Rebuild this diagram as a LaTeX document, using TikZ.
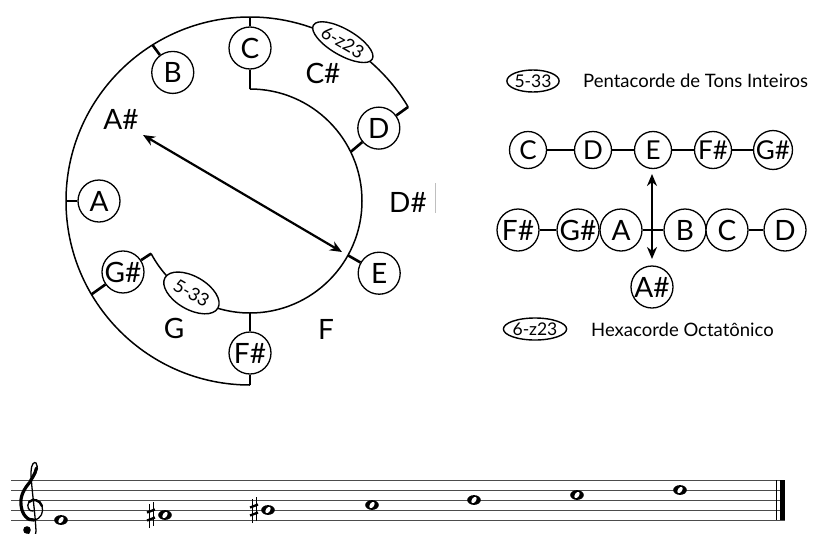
\documentclass[tikz,border=0pt]{standalone}
\usepackage{fontspec}
\setmainfont{Lato}
\usetikzlibrary{arrows.meta,shapes.geometric,calc}

\tikzset{
  pc/.style={circle,draw,line width=1.3pt,fill=white,minimum size=42pt,inner sep=0pt,
             font=\fontsize{28}{28}\selectfont},
  pcs/.style={pc,minimum size=37pt,font=\fontsize{26}{26}\selectfont},
  lab/.style={inner sep=0pt,font=\fontsize{28}{28}\selectfont},
  rim/.style={line width=1.5pt},
  tick/.style={line width=2.6pt},
  setname/.style={ellipse,draw,line width=1.4pt,fill=white,inner sep=0pt,
                  font=\fontsize{18}{18}\selectfont},
  link/.style={line width=2.6pt},
  dbl/.style={line width=2.2pt,{Stealth[length=12pt,width=10pt]}-{Stealth[length=12pt,width=10pt]}},
  legend/.style={anchor=west,inner sep=0pt,font=\fontsize{18.5}{18.5}\selectfont},
  stafflin/.style={line width=1pt,black!70},
}

% whole note head centred at (#1,#2)
\newcommand\wholehead[2]{%
  \begin{scope}[shift={(#1,#2)}]
    \fill (0,0) ellipse (6.8 and 4.9);
    \fill[white,rotate=-35] (0,0) ellipse (2.1 and 3.6);
  \end{scope}}
% sharp sign centred at (#1,#2)
\newcommand\sharpsign[2]{%
  \begin{scope}[shift={(#1,#2)}]
    \draw[line width=0.8pt] (-1.9,-13) -- (-1.9,11);
    \draw[line width=0.8pt] (1.9,-11) -- (1.9,13);
    \draw[line width=2.3pt] (-4,-5.5) -- (4,-2.5);
    \draw[line width=2.3pt] (-4,2.5) -- (4,5.5);
  \end{scope}}

\begin{document}
\begin{tikzpicture}[x=1pt,y=1pt]
\useasboundingbox (0,0) rectangle (813,-533);

% ---------- pitch-class clock ----------
\coordinate (O) at (250,-201);
\draw[rim] ([shift={(270:184)}]O) arc[start angle=270,end angle=30.75,radius=184];
\draw[rim] ([shift={(90:112)}]O) arc[start angle=90,end angle=-152,radius=112];

\coordinate (oC) at ([shift={(90:184)}]O);
\coordinate (iC) at ([shift={(90:112)}]O);
\coordinate (oB) at ([shift={(122:184)}]O);
\coordinate (oA) at ([shift={(180:184)}]O);
\coordinate (oGs) at ([shift={(-149.5:184)}]O);
\coordinate (iGs) at ([shift={(-152:112)}]O);
\coordinate (oFs) at ([shift={(-90:184)}]O);
\coordinate (iFs) at ([shift={(-90:112)}]O);
\coordinate (iE) at ([shift={(-29:112)}]O);
\coordinate (oD) at ([shift={(30.75:184)}]O);
\coordinate (iD) at ([shift={(26:112)}]O);

\node[setname,rotate=-30,minimum width=68pt,minimum height=26pt] (z23)
  at ([shift={(59.7:184)}]O) {6-z23};
\node[setname,rotate=-30,minimum width=61pt,minimum height=33pt] (p533)
  at ([shift={(-122.5:109)}]O) {5-33};

\node[pc] (C) at ([shift={(90:153)}]O) {C};
\node[pc] (B) at ([shift={(121:150)}]O) {B};
\node[pc] (A) at ([shift={(180:151)}]O) {A};
\node[pc] (Gs) at ([shift={(-150.8:145.5)}]O) {G\#};
\node[pc] (Fs) at ([shift={(-90:152)}]O) {F\#};
\node[pc] (E) at ([shift={(-29.2:148)}]O) {E};
\node[pc] (D) at ([shift={(29.5:148)}]O) {D};

\draw[tick] (oC) -- (C);  \draw[tick] (C) -- (iC);
\draw[tick] (oB) -- (B);
\draw[tick] (oA) -- (A);
\draw[tick] (oGs) -- (Gs); \draw[tick] (Gs) -- (iGs);
\draw[tick] (iFs) -- (Fs); \draw[tick] (Fs) -- (oFs);
\draw[tick] (iE) -- (E);
\draw[tick] (oD) -- (D);  \draw[tick] (D) -- (iD);

\node[lab] (lCs) at (323,-73) {C\#};
\node[lab] (lDs) at (408,-202) {D\#};
\node[lab] (lF) at (326,-329) {F};
\node[lab] (lG) at (174,-328) {G};
\node[lab] (lAs) at (121,-119) {A\#};

\coordinate (tipAs) at (143,-135);
\coordinate (tipE) at (342,-252);
\draw[dbl] (tipAs) -- (tipE);

\draw[black!25,line width=0.8pt] (435,-183) -- (435,-213);

% ---------- chains ----------
\node[setname,minimum width=49pt,minimum height=22pt,font=\fontsize{17.5}{17.5}\selectfont]
  (k533) at (533,-81) {5-33};
\node[legend] (t533) at (583,-81) {Pentacorde de Tons Inteiros};

\node[pcs] (r1C) at (528,-150) {C};
\node[pcs] (r1D) at (593,-150) {D};
\node[pcs] (r1E) at (653,-150) {E};
\node[pcs] (r1Fs) at (713,-150) {F\#};
\node[pcs] (r1Gs) at (773,-150) {G\#};
\draw[link] (r1C) -- (r1D);
\draw[link] (r1D) -- (r1E);
\draw[link] (r1E) -- (r1Fs);
\draw[link] (r1Fs) -- (r1Gs);

\node[pc] (r2Fs) at (518,-230) {F\#};
\node[pc] (r2Gs) at (578,-230) {G\#};
\node[pc] (r2A) at (621,-230) {A};
\node[pc] (r2B) at (685,-230) {B};
\node[pc] (r2C) at (727,-230) {C};
\node[pc] (r2D) at (785,-230) {D};
\draw[link] (r2Fs) -- (r2Gs);
\draw[link] (r2A) -- (r2B);
\draw[link] (r2C) -- (r2D);

\coordinate (vtop) at (652,-174);
\coordinate (vbot) at (652,-259);
\draw[dbl] (vtop) -- (vbot);
\node[pc] (r3As) at (652,-287) {A\#};

\node[setname,minimum width=53pt,minimum height=22pt,font=\fontsize{17.5}{17.5}\selectfont]
  (k623) at (535,-329) {6-z23};
\node[legend] (t623) at (591,-329.5) {Hexacorde Octatônico};

% ---------- staff ----------
\foreach \k in {0,...,4}
  \draw[stafflin] (11,-480-10*\k) -- (785,-480-10*\k);
\draw[line width=0.9pt] (776.5,-480) -- (776.5,-520);
\fill (780,-480) rectangle (785,-520);

% treble clef
\begin{scope}[yscale=-1]
  \draw[line width=1.3pt,line cap=round]
    (28,533) .. controls (30,538) and (37,537) .. (36,531)
    .. controls (35,510) and (31,485) .. (31,472)
    .. controls (31,465) and (34,461) .. (36,463)
    .. controls (39,466) and (36,475) .. (30,482)
    .. controls (24,489) and (20,496) .. (21,505)
    .. controls (22,515) and (28,521) .. (34,520)
    .. controls (41,519) and (44,512) .. (42,506)
    .. controls (40,500) and (33,498) .. (29,502)
    .. controls (26,506) and (29,512) .. (33,511);
  \draw[line width=3.2pt,line cap=round]
    (36.5,468) .. controls (35,475) and (31,479) .. (30,482)
    .. controls (24,489) and (20,496) .. (21,505)
    .. controls (22,515) and (28,521) .. (34,520);
  \draw[line width=2.4pt,line cap=round]
    (42,506) .. controls (40,500) and (33,498) .. (29,502);
  \fill (27,530) circle (3.8);
\end{scope}

\wholehead{61}{-520}
\sharpsign{151}{-515}
\wholehead{165}{-515}
\sharpsign{254}{-510}
\wholehead{268}{-510}
\wholehead{372}{-505}
\wholehead{474}{-500}
\wholehead{577}{-495}
\wholehead{680}{-490}
\end{tikzpicture}
\end{document}
